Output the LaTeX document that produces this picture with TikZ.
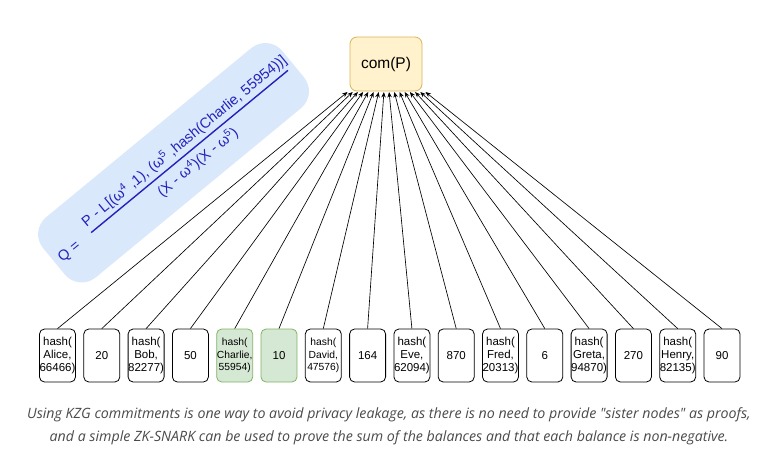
\documentclass[tikz,border=0pt]{standalone}
\usepackage{fontspec}
\setmainfont{Liberation Sans}
\newfontfamily\capfont{Open Sans}
\usetikzlibrary{arrows.meta}
\definecolor{yelfill}{HTML}{FFF2CC}
\definecolor{yelline}{HTML}{D6B656}
\definecolor{grnfill}{HTML}{D5E8D4}
\definecolor{grnline}{HTML}{82B366}
\definecolor{pillfill}{HTML}{DAE8FC}
\definecolor{formblue}{HTML}{2222BB}
\definecolor{capgray}{HTML}{4A4A4A}
\begin{document}
\begin{tikzpicture}[x=1pt,y=-1pt,
  leaf/.style={draw=black, line width=0.8pt, fill=white, rounded corners=5pt,
    minimum width=36pt, minimum height=53pt, inner sep=0pt, align=center,
    font=\fontsize{11.5}{13.2}\selectfont},
  smalltext/.style={font=\fontsize{10.3}{12.6}\selectfont},
  greenleaf/.style={leaf, fill=grnfill, draw=grnline},
  edge/.style={line width=0.65pt, -{Stealth[length=5.5pt,width=4.5pt]}},
  pill/.style={fill=pillfill, rounded corners=22pt, minimum width=310pt, minimum height=78pt, inner sep=0pt},
  formula/.style={text=formblue, inner sep=0pt, font=\fontsize{14.5}{17}\selectfont},
  fracline/.style={draw=formblue, line width=1.4pt},
  compbox/.style={draw=yelline, fill=yelfill, line width=0.8pt, rounded corners=7pt,
    minimum width=72pt, minimum height=54pt, inner sep=0pt, font=\fontsize{15.5}{18}\selectfont},
  caption/.style={text=capgray, align=center, inner sep=0pt, font=\capfont\itshape\fontsize{14.2}{23}\selectfont}
  ]
\useasboundingbox (0,0) rectangle (778,461);

% formula pill
\begin{scope}[shift={(172,164)}, rotate=39.5, transform shape]
  \node[pill] (pillbox) at (2,0) {};
  \node[formula] (qeq) at (-135,2.7) {Q =};
  \node[formula] (num) at (24,-10) {P - L[(ω\textsuperscript{4} ,1), (ω\textsuperscript{5} ,hash(Charlie, 55954))]};
  \node[formula] (den) at (21,15) {(X - ω\textsuperscript{4})(X - ω\textsuperscript{5})};
  \coordinate (fl) at (-106,1.5);
  \coordinate (fr) at (149,1.5);
  \draw[fracline] (fl) -- (fr);
\end{scope}

% commitment
\node[compbox] (com) at (386,64) {com(P)};

% leaves
\node[leaf] (b1) at (57.5,355.5) {hash(\\Alice,\\66466)};
\node[leaf] (b2) at (101.8,355.5) {20};
\node[leaf] (b3) at (146.1,355.5) {hash(\\Bob,\\82277)};
\node[leaf] (b4) at (190.4,355.5) {50};
\node[greenleaf, smalltext] (b5) at (234.7,355.5) {hash(\\Charlie,\\55954)};
\node[greenleaf] (b6) at (279.0,355.5) {10};
\node[leaf, smalltext] (b7) at (323.3,355.5) {hash(\\David,\\47576)};
\node[leaf] (b8) at (367.6,355.5) {164};
\node[leaf] (b9) at (411.9,355.5) {hash(\\Eve,\\62094)};
\node[leaf] (b10) at (456.2,355.5) {870};
\node[leaf] (b11) at (500.5,355.5) {hash(\\Fred,\\20313)};
\node[leaf] (b12) at (544.8,355.5) {6};
\node[leaf] (b13) at (589.1,355.5) {hash(\\Greta,\\94870)};
\node[leaf] (b14) at (633.4,355.5) {270};
\node[leaf] (b15) at (677.7,355.5) {hash(\\Henry,\\82135)};
\node[leaf] (b16) at (722.0,355.5) {90};

% arrow targets along the bottom of com(P)
\foreach \i in {1,...,16} {
  \coordinate (t\i) at ({347.5+5.2*(\i-1)},92);
}
\foreach \i in {1,...,16} {
  \draw[edge] (b\i.north) -- (t\i);
}

% caption
\node[caption] (cap) at (389,426.5) {Using KZG commitments is one way to avoid privacy leakage, as there is no need to provide "sister nodes" as proofs,\\and a simple ZK-SNARK can be used to prove the sum of the balances and that each balance is non-negative.};
\end{tikzpicture}
\end{document}
